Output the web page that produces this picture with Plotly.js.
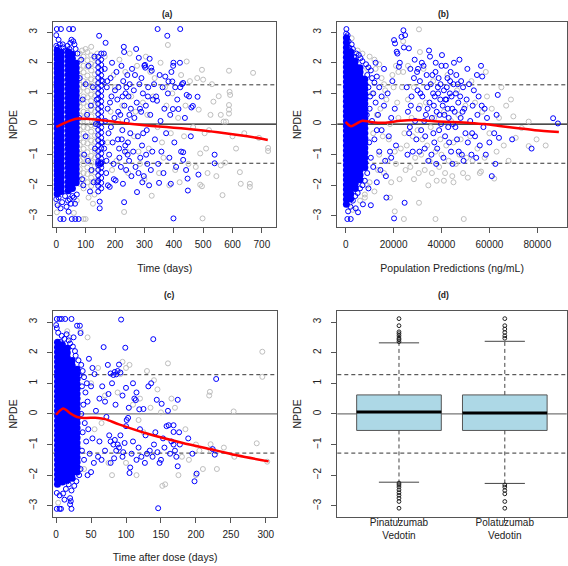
<!DOCTYPE html>
<html><head><meta charset="utf-8">
<script src="https://cdn.plot.ly/plotly-3.0.1.min.js"></script>
<style>html,body{margin:0;padding:0;background:#fff}#chart{width:568px;height:566px}</style>
</head><body><div id="chart"></div>
<script>
// ---------------- Panel (a): NPDE vs Time (days) ----------------
const aCoreColX = [3, 17, 41, 55, 68];
const aCoreColY = [
 [-2.28,-2.12,-1.97,-1.83,-1.66,-1.52,-1.37,-1.21,-1.06,-0.92,-0.77,-0.61,-0.46,-0.31,-0.14,0.02,0.16,0.31,0.47,0.62,0.76,0.91,1.07,1.22,1.36,1.51,1.67,1.82,1.96,2.12,2.27,2.41],
 [-2.2,-2.05,-1.9,-1.74,-1.6,-1.44,-1.29,-1.13,-0.98,-0.84,-0.68,-0.53,-0.38,-0.22,-0.07,0.08,0.23,0.39,0.54,0.69,0.84,0.99,1.14,1.29,1.44,1.6,1.75,1.9,2.05,2.2,2.34],
 [-2.18,-2.03,-1.88,-1.72,-1.58,-1.42,-1.27,-1.12,-0.97,-0.81,-0.66,-0.51,-0.36,-0.21,-0.06,0.09,0.24,0.4,0.55,0.7,0.85,1.0,1.15,1.3,1.46,1.61,1.76,1.91,2.06,2.21,2.36],
 [-2.1,-1.95,-1.8,-1.65,-1.5,-1.35,-1.2,-1.05,-0.9,-0.74,-0.59,-0.44,-0.29,-0.14,0.01,0.16,0.31,0.47,0.62,0.77,0.92,1.07,1.22,1.37,1.53,1.68,1.83,1.98,2.13,2.28],
 [-1.92,-1.77,-1.62,-1.47,-1.32,-1.17,-1.02,-0.87,-0.72,-0.57,-0.42,-0.27,-0.12,0.03,0.18,0.33,0.48,0.63,0.78,0.93,1.08,1.23,1.38,1.53,1.68,1.83,1.98]
];
const aBlueColX = [143, 153];
const aBlueColY = [
 [-2.2,-2.02,-1.85,-1.68,-1.5,-1.34,-1.28,-1.22,-1.05,-0.88,-0.7,-0.53,-0.36,-0.19,-0.02,0.15,0.32,0.49,0.66,0.83,1.0,1.17,1.34,1.51,1.68,1.85,2.02,2.19],
 [-2.1,-1.92,-1.76,-1.58,-1.42,-1.3,-1.25,-1.13,-0.96,-0.79,-0.62,-0.45,-0.28,-0.11,0.06,0.23,0.4,0.57,0.74,0.91,1.08,1.25,1.42,1.59,1.76,1.93,2.1,2.3]
];
const aGrayColX = [80, 93, 106, 119, 132];
const aGrayColY = [
 [-1.95,-1.68,-1.47,-1.18,-0.97,-0.68,-0.47,-0.18,0.06,0.28,0.57,0.78,1.07,1.28,1.57,1.78,2.06,2.3],
 [-2.1,-1.82,-1.6,-1.31,-1.1,-0.81,-0.6,-0.31,-0.1,0.19,0.4,0.69,0.9,1.19,1.4,1.69,1.9,2.2],
 [-1.9,-1.63,-1.42,-1.13,-0.92,-0.63,-0.42,-0.13,0.08,0.37,0.58,0.87,1.08,1.37,1.58,1.87,2.08,2.35],
 [-2.02,-1.75,-1.54,-1.25,-1.04,-0.75,-0.54,-0.25,-0.04,0.25,0.46,0.75,0.96,1.25,1.46,1.75,1.96,2.24],
 [-1.86,-1.58,-1.38,-1.09,-0.88,-0.58,-0.38,-0.08,0.12,0.41,0.62,0.92,1.12,1.42,1.62,1.92,2.14]
];
const aBluePts = [
 [2,3.1],[16,3.1],[44,3.1],[57,3.1],[0,2.9],[8,2.75],[12,2.6],[0,2.55],[22,2.6],[5,2.5],[48,2.65],[52,2.75],[58,2.7],[62,2.6],[38,2.55],[45,2.45],[66,2.45],[30,2.4],[72,2.3],[25,2.5],
 [14,-3.1],[25,-3.1],[53,-3.1],[65,-3.1],[76,-3.1],[42,-2.86],[50,-2.6],[46,-2.45],[8,-2.4],[20,-2.55],[0,-2.45],[30,-2.35],[60,-2.4],[35,-2.7],[5,-2.65],[70,-2.3],[15,-2.75],[40,-2.5],[64,-2.6],[55,-2.35],
 [146,2.88],[148,-2.53],[148,-2.75],[150,-1.28],[148,-1.33],[140,-1.9],[158,1.4],[157,-0.6],[138,0.8],
 [80,1.5],[90,0.8],[100,-0.4],[110,1.9],[120,-1.5],[95,-1.0],[85,2.1],[105,0.3],[125,1.2],[132,-0.8],[88,-1.8],[115,-2.2],[130,2.2],[78,0.2],[100,1.3],[118,0.6],[92,-2.0],[135,0.0],[127,-1.9],[108,-1.2],
 [165,1.8],[168,2.65],[172,1.2],[175,0.5],[178,-0.3],[180,-1.0],[170,-1.6],[185,1.5],[188,0.9],[192,-0.6],[195,-1.3],[198,0.2],[163,-0.8],[167,0.1],[182,-2.05],[176,-2.0],[190,2.0],[200,1.1],[186,-0.1],[174,1.4],[196,-1.8],[183,0.7],[171,-1.2],[162,2.3],
 [202,-1.84],[205,1.7],[208,0.8],[210,-0.5],[212,1.2],[215,-1.1],[218,0.3],[222,1.9],[225,-0.2],[227,-1.95],[228,1.4],[230,2.52],[231,2.35],[231,-2.55],[232,0.6],[234,-0.9],[236,1.0],[238,-1.5],[240,0.1],[242,1.6],[244,-0.6],[246,0.9],[248,-1.2],[250,1.3],[252,-0.3],[254,0.5],[256,-1.7],[258,1.8],[235,-0.7],[226,0.9],[220,-1.4],[214,-0.8],[243,-1.0],[249,0.3],[211,0.4],[223,-0.5],[239,1.2],
 [262,-0.9],[264,1.1],[266,0.2],[270,-1.4],[272,2.45],[274,0.7],[275,-2.22],[278,-0.4],[281,2.16],[283,1.3],[286,-1.1],[289,0.4],[292,-0.7],[295,1.0],[298,-1.7],[300,1.9],[302,1.93],[303,1.84],[305,0.6],[308,-0.2],[310,-1.3],[313,1.2],[316,-2.0],[318,2.13],[320,0.3],[323,1.84],[325,1.74],[327,-0.9],[329,0.8],[268,1.6],[280,-1.6],[290,1.5],[296,-0.3],[306,-1.0],[312,0.9],[322,-1.5],[285,0.5],[293,-1.9],
 [333,1.3],[336,-0.5],[340,0.9],[343,0.76],[345,3.1],[347,-1.3],[350,-1.92],[352,1.6],[355,0.1],[358,-0.9],[362,1.2],[365,-1.6],[368,0.5],[371,1.55],[374,-0.3],[378,2.88],[380,1.0],[382,1.39],[385,-1.1],[388,0.3],[390,-1.95],[392,1.7],[395,1.39],[397,0.49],[398,1.9],[399,2.0],[399,-3.08],[402,-0.6],[405,1.2],[408,-1.4],[412,0.8],[416,0.49],[421,2.0],[422,3.1],[425,-0.9],[428,1.3],[432,1.34],[432,-0.92],[432,-1.17],[438,0.2],[442,-1.5],[447,-1.78],[448,-2.17],[452,0.9],[458,-0.4],[460,0.54],
 [465,0.59],[481,0.89],[484,-1.65],[539,-1.0],[539,-1.28],[422,1.2],[444,0.95]
];
const aGrayPts = [
 [93,-3.1],[100,-3.1],[2,-2.88],[2,-2.6],[119,2.52],[100,2.45],[88,2.4],[70,-2.5],[110,-2.4],[125,-2.6],[60,-2.9],[130,-2.3],[28,0.3],[30,-1.2],[32,1.5],[74,-1.0],[140,2.3],
 [165,2.2],[175,-0.6],[185,0.4],[195,1.6],[205,-1.2],[215,2.1],[225,0.6],[231,-2.87],[235,1.7],[245,-1.6],[255,0.9],[265,-0.4],[275,1.9],[285,-1.3],[295,0.7],[305,2.2],[315,-0.8],[325,-2.34],[335,1.5],[345,-0.1],[355,2.0],[365,-1.1],[375,0.6],[380,2.58],[385,-2.0],[395,1.0],[405,-1.5],[415,0.2],[425,1.6],[435,-0.4],[444,2.04],[450,-1.3],[455,1.4],[210,0.1],[240,-0.9],[270,0.4],[300,-1.8],[330,0.9],[360,-0.6],[390,-0.3],[420,-1.9],[440,0.6],[370,1.2],[250,2.3],[320,1.7],[280,-0.9],[190,-1.5],[200,1.2],[310,0.3],[350,-1.6],
 [466,-0.1],[475,-1.4],[485,0.47],[490,-1.98],[496,1.77],[496,-2.03],[498,-3.08],[505,-0.3],[510,-0.8],[520,-0.2],[525,0.3],[535,0.73],[545,-1.7],[553,0.91],[560,0.3],[566,-2.32],[570,0.08],[575,-1.26],[578,0.08],[588,1.74],[588,0.62],[588,0.47],[588,0.34],[590,1.05],[592,0.95],[600,-0.4],[625,-1.57],[628,-1.95],[640,-0.3],[659,-1.95],[659,-2.05],[670,1.67],[690,-0.45],[721,-0.78],[721,-0.88],[480,1.5],[515,-1.6],[500,1.45],[530,1.3],[612,-0.8],[560,-1.35],[490,-0.96]
];
const aLoessX = [0,10,25,50,75,100,150,200,250,300,350,400,450,500,550,600,650,700,720];
const aLoessY = [-0.09,-0.05,0.02,0.12,0.18,0.17,0.13,0.07,0.01,-0.04,-0.08,-0.12,-0.16,-0.21,-0.27,-0.33,-0.4,-0.48,-0.52];

// ---------------- Panel (b): NPDE vs Population Predictions ----------------
const bCoreColX = [300, 2100, 4000, 6000, 8000];
const bCoreColY = [
 [-2.62,-2.46,-2.3,-2.14,-1.98,-1.82,-1.66,-1.5,-1.34,-1.18,-1.02,-0.86,-0.7,-0.54,-0.38,-0.22,-0.06,0.1,0.26,0.42,0.58,0.74,0.9,1.06,1.22,1.38,1.54,1.7,1.86,2.02,2.18,2.34,2.5,2.66,2.82],
 [-2.44,-2.28,-2.12,-1.96,-1.8,-1.64,-1.48,-1.32,-1.16,-1.0,-0.84,-0.68,-0.52,-0.36,-0.2,-0.04,0.12,0.28,0.44,0.6,0.76,0.92,1.08,1.24,1.4,1.56,1.72,1.88,2.04,2.2,2.36],
 [-2.1,-1.94,-1.78,-1.62,-1.46,-1.3,-1.14,-0.98,-0.82,-0.66,-0.5,-0.34,-0.18,-0.02,0.14,0.3,0.46,0.62,0.78,0.94,1.1,1.26,1.42,1.58,1.74,1.9,2.06],
 [-1.82,-1.66,-1.5,-1.34,-1.18,-1.02,-0.86,-0.7,-0.54,-0.38,-0.22,-0.06,0.1,0.26,0.42,0.58,0.74,0.9,1.06,1.22,1.38,1.54,1.7,1.84],
 [-1.42,-1.26,-1.1,-0.94,-0.78,-0.62,-0.46,-0.3,-0.14,0.02,0.18,0.34,0.5,0.66,0.82,0.98,1.14,1.3,1.46]
];
const bBluePts = [
 [300,3.1],[200,2.95],[800,2.9],[500,2.75],[1200,2.7],[2500,2.6],[1500,2.5],[3000,2.45],[4500,2.3],[5500,2.25],[3500,2.2],[6200,2.15],[7000,2.05],[8500,1.95],[9500,1.85],[10500,1.75],[9000,1.6],[11000,1.5],[12000,1.35],[13000,1.55],[11500,1.0],[12500,0.7],[14000,1.2],[15000,0.9],[13500,0.3],[10000,0.5],[9500,1.2],[16000,0.6],[15000,-0.2],[12000,-0.5],[14000,-0.9],[10500,-1.1],[11500,-1.4],[9000,-1.6],[8000,-1.85],[7000,-2.0],[6000,-2.1],[5000,-2.25],[4000,-2.35],[3000,-2.5],[2000,-2.7],[1000,-2.85],[700,-3.1],[2100,-3.1],[5150,-2.88],[7200,-2.62],[4200,-2.75],[9500,-2.1],[10500,-2.65],[17000,-2.4],[13000,-1.9],[16500,-1.2],[18000,-0.4],[19000,0.2],[17500,1.0],[19500,1.4],[20500,0.5],[18500,-0.9],[12500,2.0],[16000,1.8],[13000,-0.2],[11000,0.1],[9800,-0.6],[10200,0.9],[8800,0.3],[14500,-1.5],[16800,-1.7],[19000,-1.1],[21000,-0.7],
 [20200,2.74],[20600,2.63],[21300,2.36],[21600,2.3],[24100,3.06],[23300,2.85],[24800,2.9],[24300,2.5],[26400,2.47],[22600,2.0],[22200,1.87],[24600,-2.57],[20200,-3.08],
 [25500,1.2],[26000,0.4],[26500,-0.3],[27000,1.8],[27500,0.9],[28000,-0.9],[28500,1.5],[29000,0.1],[29500,-0.5],[30000,1.1],[25800,-1.0],[27200,0.6],[28800,2.1],[29800,1.7],[26800,-0.1],
 [30500,0.5],[31000,1.4],[31500,-0.2],[32000,0.9],[32500,1.9],[33000,-0.8],[33500,0.3],[34000,1.2],[34500,-1.2],[35000,0.7],[30800,-0.9],[31800,2.0],[32800,0.1],[33800,1.6],[34800,2.4],[35200,2.2],[31200,1.0],[33200,-0.4],[34200,0.5],[30200,1.8],
 [35500,1.3],[36000,0.2],[36500,1.0],[37000,-0.6],[37500,1.7],[38000,0.4],[38500,1.2],[39000,-0.2],[39500,0.8],[40000,1.9],[35800,-1.0],[36800,0.6],[37800,-1.3],[38800,1.5],[39800,0.0],[36200,1.6],[37200,0.9],[38200,-0.8],[39200,0.3],[40200,2.25],[37600,2.0],[38600,1.0],[36600,-0.3],[39600,1.3],
 [40500,0.6],[41000,1.1],[41500,-0.4],[42000,0.8],[42500,1.5],[43000,0.2],[43500,1.0],[44000,-0.9],[44500,0.5],[45000,1.3],[40800,-1.1],[41800,1.9],[42800,-0.1],[43800,1.7],[44800,0.0],[41200,0.3],[42200,1.2],[43200,-0.6],[44200,0.9],[45200,2.0],[42600,0.5],[43600,1.4],[41600,0.8],[44600,-1.3],
 [45500,0.4],[46000,1.0],[46500,-0.5],[47000,0.7],[47500,2.1],[48000,0.2],[48500,-1.0],[49000,1.2],[49500,0.5],[50000,-0.3],[46200,1.6],[47200,-0.9],[48200,1.4],[49200,-1.2],[45800,-0.1],[47800,0.9],[48800,0.4],[46800,1.3],
 [50500,0.8],[51000,-0.6],[51500,1.3],[52000,0.1],[52500,-1.0],[53000,0.6],[53500,1.1],[54000,-0.4],[54500,-1.1],[55000,0.3],[55500,0.9],[56000,-0.7],[56500,1.9],[57000,1.55],[57500,-0.1],[58000,0.5],[58500,-1.0],[59000,0.2],[60000,-0.6],[61000,-1.7],[62500,-1.3],[63000,0.3],[63500,0.95],[62000,-0.3],[64000,-0.45],[69500,-0.5],[50800,1.8],[52800,-0.3],[54800,1.6],[56800,0.6],
 [86600,0.19],[88600,0.02],[77600,-0.8]
];
const bGrayPts = [
 [10000,-1.9],[11000,1.0],[12000,-2.2],[13000,0.3],[14000,-1.0],[15000,1.5],[16000,-1.6],[17000,0.8],[18000,-0.5],[19000,-1.9],[20000,1.2],[21000,-1.3],[22000,0.2],[23000,-0.8],[24000,1.7],[25000,-1.5],[11500,-0.3],[12500,1.8],[13500,-1.5],[14500,0.5],[15500,-0.4],[16500,1.1],[17500,-1.2],[18500,0.0],[19500,1.6],[20500,-0.9],[21500,0.7],[22500,-1.8],[23500,1.2],[24500,-0.3],[8000,-2.4],[6000,-2.5],[9000,-2.0],[7000,2.3],[10000,2.2],[12000,2.1],[14000,1.95],[16000,1.3],[9000,1.8],[20500,-2.85],[18500,-2.4],[24300,-3.1],[22000,1.7],[21000,1.9],[3000,-2.8],[1500,-2.6],[5000,2.4],[2500,2.8],[8000,-2.3],
 [25500,-0.7],[26000,0.8],[27000,-1.4],[27500,0.2],[28000,-0.4],[29000,-1.1],[30000,-0.2],[30500,-1.6],[31000,0.6],[31500,-1.0],[32000,-0.5],[33000,-1.5],[33500,0.7],[34000,-0.7],[35000,-1.2],[35500,-0.1],[36000,-1.6],[37000,0.2],[37500,-0.9],[38000,-1.85],[39000,-1.4],[39500,-0.5],[40000,-1.0],[41000,0.4],[41500,-1.6],[42000,-0.7],[43000,-1.2],[44000,0.1],[44500,-1.7],[45000,-0.6],[46000,-1.3],[47000,0.3],[47500,-1.0],[48000,-0.5],[49000,-1.6],[50000,0.6],[50500,-1.1],[51000,-1.75],[52000,-0.4],[53000,-1.2],[54000,0.7],[55000,-0.8],[56000,-1.6],[57000,0.4],[58000,-1.1],[59000,0.9],[60000,-0.3],[61000,0.5],[62000,-1.78],[63000,-0.9],[64000,0.2],[65000,1.2],[66000,-0.7],[67000,0.6],[68000,-1.2],[69000,0.8],[70000,0.25],[73500,-0.13],[76400,0.08],[76400,-0.72],[79700,-0.5],[83500,-0.7],[71000,-0.45],
 [28500,1.2],[30600,3.09],[32500,1.8],[36500,1.4],[42500,1.6],[46500,1.1],[52500,1.4],[58500,1.7],[31000,2.35],[26000,1.9],[24000,2.7],[30600,-2.57],[37500,-3.1],[49300,-3.1],[41000,-1.85],[56500,-1.55],[45000,-1.9],[34500,-2.0],[28500,-1.8]
];
const bLoessX = [0,2100,4200,7000,10400,16000,23000,30000,37000,44000,51000,58000,65000,72000,79000,89000];
const bLoessY = [0.07,-0.07,0.0,0.11,0.07,0.04,0.11,0.13,0.09,0.07,0.04,0.0,-0.07,-0.14,-0.2,-0.26];

// ---------------- Panel (c): NPDE vs Time after dose ----------------
const cCoreColX = [2, 9, 16, 23, 30];
const cCoreColY = [
 [-2.3,-2.14,-1.98,-1.82,-1.66,-1.5,-1.34,-1.18,-1.02,-0.86,-0.7,-0.54,-0.38,-0.22,-0.06,0.1,0.26,0.42,0.58,0.74,0.9,1.06,1.22,1.38,1.54,1.7,1.86,2.02,2.18,2.34],
 [-2.22,-2.06,-1.9,-1.74,-1.58,-1.42,-1.26,-1.1,-0.94,-0.78,-0.62,-0.46,-0.3,-0.14,0.02,0.18,0.34,0.5,0.66,0.82,0.98,1.14,1.3,1.46,1.62,1.78,1.94,2.1,2.26],
 [-2.16,-2.0,-1.84,-1.68,-1.52,-1.36,-1.2,-1.04,-0.88,-0.72,-0.56,-0.4,-0.24,-0.08,0.08,0.24,0.4,0.56,0.72,0.88,1.04,1.2,1.36,1.52,1.68,1.84,2.0,2.14],
 [-2.1,-1.94,-1.78,-1.62,-1.46,-1.3,-1.14,-0.98,-0.82,-0.66,-0.5,-0.34,-0.18,-0.02,0.14,0.3,0.46,0.62,0.78,0.94,1.1,1.26,1.42,1.58,1.74],
 [-1.9,-1.74,-1.58,-1.42,-1.26,-1.1,-0.94,-0.78,-0.62,-0.46,-0.3,-0.14,0.02,0.18,0.34,0.5,0.66,0.82,0.98,1.14,1.3,1.46]
];
const cBluePts = [
 [1,3.1],[5,3.1],[8,3.1],[13,3.1],[22,3.1],[0,2.9],[1,2.8],[3,2.65],[8,2.55],[12,2.45],[6,2.35],[15,2.6],[18,2.4],[20,2.3],[24,2.2],[27,2.05],[30,2.88],[34,2.88],[35,2.64],[25,2.5],[28,1.9],[32,1.75],[36,1.6],[38,1.4],[40,1.2],[33,1.25],[37,0.9],[42,0.7],[39,0.3],[36,0.0],[41,-0.3],[38,-0.6],[43,-0.9],[37,-1.2],[40,-1.5],[35,-1.8],[33,-2.0],[29,-2.2],[26,-2.35],[22,-2.5],[18,-2.3],[14,-2.45],[10,-2.6],[5,-2.66],[1,-2.58],[20,-2.75],[21,-2.85],[20,-2.95],[1,-3.1],[5,-3.1],[7,-3.1],[22,-3.1],[12,-2.8],[16,-2.2],[44,1.0],[46,-0.5],[45,0.4],[47,1.8],[48,-1.3],[50,0.9],[52,-0.8],[55,1.3],[52,1.5],[54,-1.6],[57,0.1],[60,-1.4],[62,0.5],[50,-1.9],[45,-2.0],
 [93,3.08],[139,2.44],[68,2.18],[99,2.16],[90,1.61],[84,1.37],[82,1.27],[78,1.32],[86,1.29],[88,1.4],[92,1.35],[80,1.0],[75,0.65],[70,0.4],[72,-0.1],[76,-0.7],[78,-0.9],[82,-1.0],[84,-0.85],[86,-1.2],[88,-1.0],[90,-1.1],[92,-0.7],[95,-1.4],[96,-1.25],[98,-0.95],[100,-0.4],[101,-0.2],[103,-0.13],[105,-1.93],[106,-1.75],[108,-1.3],[110,-0.9],[112,0.5],[114,0.45],[115,-1.5],[118,-1.1],[119,0.15],[122,-1.4],[125,0.16],[128,-0.7],[130,-1.3],[132,0.9],[134,-1.2],[136,1.0],[138,-1.4],[140,-1.0],[142,-0.6],[144,0.46],[146,-3.08],[148,-1.6],[150,-1.5],[151,0.33],[153,-0.8],[155,-1.1],[158,-0.4],[161,-0.37],[163,-1.3],[165,-0.9],[168,-0.37],[168,-0.59],[168,-1.0],[170,-1.2],[172,-1.4],[174,0.46],[174,-1.71],[176,-0.6],[189,-0.8],[198,-2.2],[201,-1.95],[195,-1.3],[224,-1.15],[227,-1.33],[229,1.14],[110,1.0],[95,0.6],[115,0.7],[120,-0.5],[85,0.3],[62,-0.9],[66,0.9],[100,0.85],[104,0.2],[78,-1.6],[83,-1.45],[127,-1.6],[65,-1.5],[70,-1.2],[74,1.6],[145,-1.25],[160,0.1],[177,-1.0]
];
const cGrayPts = [
 [295,2.03],[295,1.21],[287,-0.96],[254,0.08],[220,0.72],[221,-0.99],[221,-1.18],[219,0.6],[302,-1.56],[255,-1.4],[240,-1.1],[210,-1.8],[200,-1.0],[205,-1.2],[190,-1.5],[185,-0.5],[180,-1.4],[160,1.65],[165,0.5],[150,0.05],[140,1.1],[135,0.2],[130,-1.3],[125,-0.6],[120,0.5],[118,-0.2],[110,0.3],[105,1.6],[100,1.5],[95,1.7],[92,1.3],[88,0.7],[80,-2.0],[75,-1.6],[70,0.6],[65,-0.3],[60,1.5],[55,-0.5],[50,1.0],[45,2.5],[40,-1.8],[35,2.7],[152,-2.35],[156,-2.3],[115,-2.0],[100,-1.6],[200,-2.0],[175,-2.0],[130,1.4],[145,0.8],[170,0.2],[230,-1.8],[16,2.7],[19,2.5],[3,-2.9]
];
const cLoessX = [0,5,10,15,20,30,40,60,70,90,130,180,230,260,304];
const cLoessY = [-0.03,0.1,0.18,0.12,0.02,-0.1,-0.13,-0.13,-0.17,-0.34,-0.64,-0.94,-1.2,-1.36,-1.55];

// ---------------- Panel (d): boxplots ----------------
const dGroups = ['Pinatuzumab<br>Vedotin', 'Polatuzumab<br>Vedotin'];
const dQ1 = [-0.54, -0.54];
const dMedian = [0.06, 0.03];
const dQ3 = [0.62, 0.62];
const dLowerWhisker = [-2.23, -2.27];
const dUpperWhisker = [2.32, 2.37];
const dOutliers1 = [3.11,2.88,2.68,2.62,2.55,2.47,2.42,2.36,-2.26,-2.32,-2.39,-2.48,-2.57,-2.66,-2.75,-2.86,-3.08];
const dOutliers2 = [3.11,2.88,2.77,2.66,2.55,2.47,-2.32,-2.39,-2.5,-2.61,-2.86,-3.08];

// reference levels (NPDE = 0 and the 10th/90th normal quantiles)
const refLevels = [0, 1.28, -1.28];

// ---------------- build ----------------
function flatCols(xs, ys){ const X=[],Y=[]; xs.forEach((x,i)=>ys[i].forEach(y=>{X.push(x);Y.push(y);})); return {x:X,y:Y}; }
function pts(arr){ return {x:arr.map(p=>p[0]), y:arr.map(p=>p[1])}; }

const BLUE = '#0000FF', GRAY = '#BEBEBE', RED = '#FF0000';
const FONT = 'Liberation Sans, Arial, sans-serif';
function grayTr(d, ax){ return {type:'scatter', mode:'markers', x:d.x, y:d.y, xaxis:'x'+ax, yaxis:'y'+ax,
  marker:{symbol:'circle-open', size:5, color:GRAY, line:{width:1, color:GRAY}}, hoverinfo:'skip'}; }
function blueTr(d, ax){ return {type:'scatter', mode:'markers', x:d.x, y:d.y, xaxis:'x'+ax, yaxis:'y'+ax,
  marker:{symbol:'circle-open', size:5, color:BLUE, line:{width:1, color:BLUE}}, hoverinfo:'skip'}; }
function coreTr(d, ax){ return {type:'scatter', mode:'markers', x:d.x, y:d.y, xaxis:'x'+ax, yaxis:'y'+ax,
  marker:{symbol:'circle', size:7, color:BLUE, line:{width:0}}, hoverinfo:'skip'}; }
function loessTr(x, y, ax){ return {type:'scatter', mode:'lines', x:x, y:y, xaxis:'x'+ax, yaxis:'y'+ax,
  line:{color:RED, width:2.5, shape:'spline', smoothing:0.8}, hoverinfo:'skip'}; }

const traces = [];
// (a)
traces.push(grayTr(flatCols(aGrayColX, aGrayColY), ''));
traces.push(grayTr(pts(aGrayPts), ''));
traces.push(coreTr(flatCols(aCoreColX, aCoreColY), ''));
traces.push(blueTr(flatCols(aBlueColX, aBlueColY), ''));
traces.push(blueTr(pts(aBluePts), ''));
traces.push(loessTr(aLoessX, aLoessY, ''));
// (b)
traces.push(grayTr(pts(bGrayPts), '2'));
traces.push(coreTr(flatCols(bCoreColX, bCoreColY), '2'));
traces.push(blueTr(pts(bBluePts), '2'));
traces.push(loessTr(bLoessX, bLoessY, '2'));
// (c)
traces.push(grayTr(pts(cGrayPts), '3'));
traces.push(coreTr(flatCols(cCoreColX, cCoreColY), '3'));
traces.push(blueTr(pts(cBluePts), '3'));
traces.push(loessTr(cLoessX, cLoessY, '3'));
// (d)
const BOXW = 0.8, CAPW = 0.19;
[0,1].forEach(i=>{
  const xi = i+1;
  traces.push({type:'scatter', mode:'lines', xaxis:'x4', yaxis:'y4', hoverinfo:'skip',
    x:[xi,xi,null,xi,xi], y:[dQ3[i],dUpperWhisker[i],null,dQ1[i],dLowerWhisker[i]],
    line:{color:'#444', width:1, dash:'4px,3px'}});
  traces.push({type:'scatter', mode:'lines', xaxis:'x4', yaxis:'y4', hoverinfo:'skip',
    x:[xi-CAPW,xi+CAPW,null,xi-CAPW,xi+CAPW], y:[dUpperWhisker[i],dUpperWhisker[i],null,dLowerWhisker[i],dLowerWhisker[i]],
    line:{color:'#444', width:1}});
  traces.push({type:'box', xaxis:'x4', yaxis:'y4', x:[xi], q1:[dQ1[i]], median:[dMedian[i]], q3:[dQ3[i]],
    lowerfence:[dQ1[i]], upperfence:[dQ3[i]], width:BOXW, whiskerwidth:0, boxpoints:false,
    fillcolor:'#ADD8E6', line:{color:'#555', width:1}, hoverinfo:'skip'});
  traces.push({type:'scatter', mode:'lines', xaxis:'x4', yaxis:'y4', hoverinfo:'skip',
    x:[xi-BOXW/2, xi+BOXW/2], y:[dMedian[i], dMedian[i]], line:{color:'#000', width:3}});
});
traces.push({type:'scatter', mode:'markers', xaxis:'x4', yaxis:'y4', hoverinfo:'skip',
  x:dOutliers1.map(()=>1).concat(dOutliers2.map(()=>2)), y:dOutliers1.concat(dOutliers2),
  marker:{symbol:'circle-open', size:3.8, color:'#222', line:{width:1, color:'#222'}}});

// axes
const W = 568, H = 566;
const fx = (a,b)=>[a/W, b/W];
const fy = (top,bot)=>[1-bot/H, 1-top/H];
const tickFont = {family:FONT, size:10, color:'#222'};
function xax(dom, range, tickvals, ticktext, title, anchor){
  return {domain:dom, range:range, tickvals:tickvals, ticktext:ticktext, anchor:anchor, tickformat:'d',
    showline:true, mirror:true, linecolor:'#555', linewidth:1, ticks:'outside', ticklen:5, tickcolor:'#555',
    showgrid:false, zeroline:false, tickfont:tickFont, ticklabelstandoff:3,
    title:{text:title, font:{family:FONT, size:10.5, color:'#222'}, standoff:15}};
}
function yax(dom, range, anchor, title){
  return {domain:dom, range:range, anchor:anchor, tickvals:[-3,-2,-1,0,1,2,3], tickangle:-90,
    showline:true, mirror:true, linecolor:'#555', linewidth:1, ticks:'outside', ticklen:5, tickcolor:'#555',
    showgrid:false, zeroline:false, tickfont:tickFont, ticklabelstandoff:6,
    title:{text:title, font:{family:FONT, size:10.5, color:'#222'}, standoff:8}};
}
const yTopDom = fy(22, 227), yBotDom = fy(311.3, 516.5);
const layout = {
  width:W, height:H, margin:{l:0,r:0,t:0,b:0}, showlegend:false,
  paper_bgcolor:'#fff', plot_bgcolor:'#fff', font:{family:FONT, color:'#222'},
  xaxis:  xax(fx(53.3,276), [-10,748], [0,100,200,300,400,500,600,700], null, 'Time (days)', 'y'),
  yaxis:  yax(yTopDom, [-3.36,3.33], 'x', 'NPDE'),
  xaxis2: xax(fx(337.3,567), [-3500,92400], [0,20000,40000,60000,80000], null, 'Population Predictions (ng/mL)', 'y2'),
  yaxis2: yax(yTopDom, [-3.36,3.33], 'x2', 'NPDE'),
  xaxis3: xax(fx(53.3,277), [-4,316], [0,50,100,150,200,250,300], null, 'Time after dose (days)', 'y3'),
  yaxis3: yax(yBotDom, [-3.35,3.35], 'x3', 'NPDE'),
  xaxis4: xax(fx(337.3,566.7), [0.417,2.585], [1,2], dGroups, '', 'y4'),
  yaxis4: yax(yBotDom, [-3.35,3.35], 'x4', 'NPDE'),
  shapes: [],
  annotations: [
    {text:'<b>(a)</b>', x:160/W, y:1-7/H, xref:'paper', yref:'paper', showarrow:false, font:{family:FONT,size:8.5,color:'#222'}},
    {text:'<b>(b)</b>', x:451/W, y:1-7/H, xref:'paper', yref:'paper', showarrow:false, font:{family:FONT,size:8.5,color:'#222'}},
    {text:'<b>(c)</b>', x:162/W, y:1-295/H, xref:'paper', yref:'paper', showarrow:false, font:{family:FONT,size:8.5,color:'#222'}},
    {text:'<b>(d)</b>', x:451/W, y:1-295/H, xref:'paper', yref:'paper', showarrow:false, font:{family:FONT,size:8.5,color:'#222'}}
  ]
};
layout.xaxis4.ticklabelstandoff = -9;
['', '2', '3', '4'].forEach((ax, k)=>{
  refLevels.forEach(v=>{
    const zero = (v===0);
    layout.shapes.push({type:'line', xref:'x'+ax+' domain', yref:'y'+ax, x0:0, x1:1, y0:v, y1:v, layer:'below',
      line:{color: zero ? (k<2 ? '#111' : '#777') : '#333', width: zero ? 1.2 : 1, dash: zero ? 'solid' : '4px,3px'}});
  });
});
Plotly.newPlot('chart', traces, layout, {staticPlot:true, displayModeBar:false});
</script></body></html>
